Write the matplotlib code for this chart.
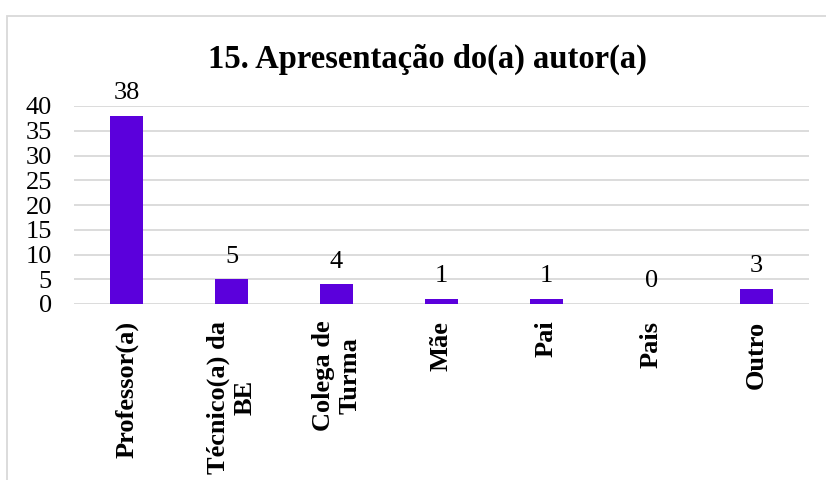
import matplotlib
matplotlib.use("Agg")
import matplotlib.pyplot as plt
from matplotlib.patches import Rectangle

categories = ["Professor(a)", "Técnico(a) da\nBE", "Colega de\nTurma", "Mãe", "Pai", "Pais", "Outro"]
values = [38, 5, 4, 1, 1, 0, 3]
yticks = [0, 5, 10, 15, 20, 25, 30, 35, 40]
title = "15. Apresentação do(a) autor(a)"

bar_color = "#5B00DC"
grid_color = "#D9D9D9"

plt.rcParams['font.family'] = ['Liberation Serif', 'DejaVu Serif']

fig = plt.figure(figsize=(8.26, 4.8), dpi=100)
W, H = 826, 480
# chart border
fig.patches.append(Rectangle((7 / W, -0.1), 1.2, 1 - 16 / H + 0.1, transform=fig.transFigure,
                             fill=False, edgecolor=grid_color, linewidth=1.3))

ax = fig.add_axes([74 / W, 1 - 304 / H, (809 - 74) / W, (304 - 106) / H])
x = list(range(len(categories)))
ax.bar(x, values, width=0.31, color=bar_color, zorder=3)
ax.set_xlim(-0.5, len(categories) - 0.5)
ax.set_ylim(0, 40)
ax.set_yticks(yticks)
ax.set_yticklabels([str(t) for t in yticks], fontsize=19)
ax.yaxis.grid(True, color=grid_color, linewidth=1.3, zorder=0)
ax.set_axisbelow(True)
for s in ax.spines.values():
    s.set_visible(False)
ax.tick_params(axis='y', length=0, pad=16)
ax.tick_params(axis='x', length=0, pad=12)
ax.set_xticks(x)
ax.set_xticklabels(categories, rotation=90, fontsize=19, fontweight='bold',
                   ha='center', va='top', multialignment='center')

for xi, v in zip(x, values):
    ax.annotate(str(v), (xi, v), xytext=(0, 12), textcoords='offset points',
                ha='center', va='baseline', fontsize=19)

fig.text(427.5 / W, 1 - 68 / H, title, ha='center', va='baseline', fontsize=23.5, fontweight='bold')

fig.savefig("out.png", dpi=100)
